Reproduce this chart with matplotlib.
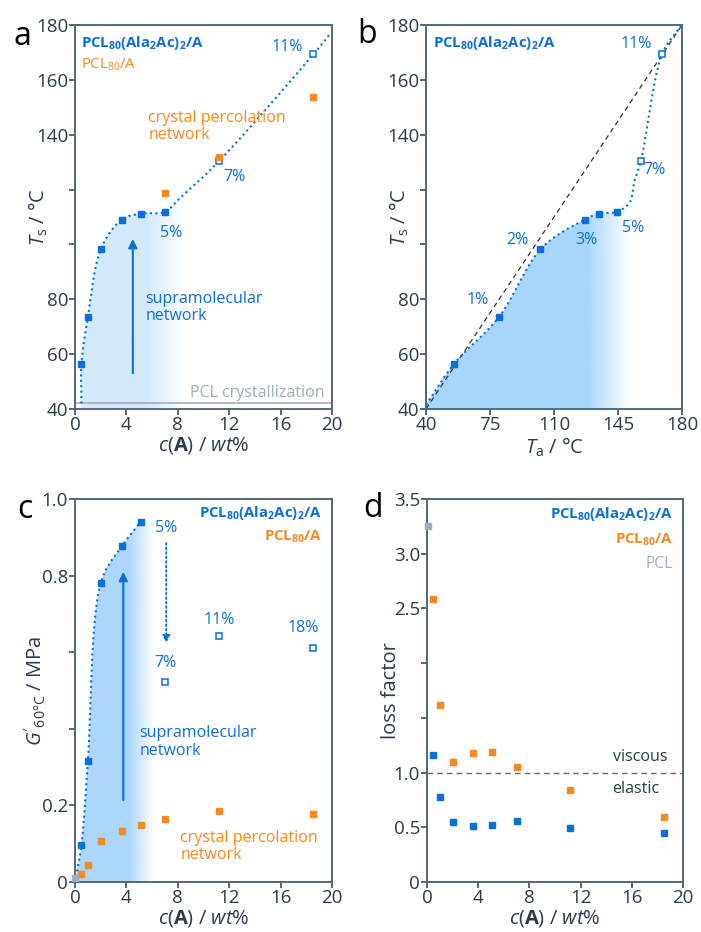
import numpy as np
import matplotlib

matplotlib.use("Agg")
import matplotlib.pyplot as plt
from matplotlib.colors import to_rgb
from matplotlib.patches import Polygon

BLUE = "#0a6fd8"
ORANGE = "#f7891f"
GRAY = "#9cadc1"
INK = "#2b3a4b"
SPINE = "#56667a"
FONT = "Open Sans"

plt.rcParams["font.family"] = [FONT, "DejaVu Sans"]
plt.rcParams["mathtext.fontset"] = "custom"
plt.rcParams["mathtext.rm"] = FONT
plt.rcParams["mathtext.it"] = FONT + ":italic"
plt.rcParams["mathtext.bf"] = FONT + ":bold"

# concentration of A (wt%) shared by every panel
conc = [0.5, 1.0, 2.0, 3.63, 5.1, 7.0, 11.2, 18.55]

# softening temperature Ts of PCL80(Ala2Ac)2/A; first 6 filled, last 2 open
ts_blue = [56.4, 73.6, 98.2, 109.0, 111.2, 111.9, 130.3, 169.3]
# Ts of PCL80/A (7, 11.2, 18.55 wt%)
ts_orange = [118.7, 132.0, 153.6]
# annealing temperature Ta for the same samples
ta_blue = [55.3, 80.0, 102.6, 126.7, 134.5, 144.4, 157.5, 169.1]
ta_tags = ["", "1%", "2%", "3%", "", "5%", "7%", "11%"]

# storage modulus at 60 °C (MPa); first 5 filled, last 3 open
g_blue = [0.097, 0.315, 0.78, 0.876, 0.94, 0.522, 0.642, 0.61]
g_orange = [0.02, 0.044, 0.108, 0.134, 0.148, 0.164, 0.185, 0.178]
g_pcl = 0.01

# loss factor
tan_blue = [1.16, 0.78, 0.545, 0.513, 0.52, 0.56, 0.495, 0.447]
tan_orange = [2.586, 1.62, 1.1, 1.175, 1.185, 1.05, 0.838, 0.59]
tan_pcl = 3.25

LEGEND_BLUE = r"PCL$_\mathbf{80}$(Ala$_\mathbf{2}$Ac)$_\mathbf{2}$/A"
LEGEND_ORANGE = r"PCL$_\mathbf{80}$/A"
XLABEL_C = r"$\mathit{c}$($\mathbf{A}$) / $\mathit{wt}$%"
LEG_SIZE = 10.7
TXT_SIZE = 11.5


def catmull_rom(xs, ys, xspan, yspan, n=40):
    # centripetal spline, computed in axes-normalised units
    pts = np.column_stack([np.asarray(xs) / xspan, np.asarray(ys) / yspan])
    pts = np.vstack([2 * pts[0] - pts[1], pts, 2 * pts[-1] - pts[-2]])
    out = []
    for i in range(1, len(pts) - 2):
        p0, p1, p2, p3 = pts[i - 1], pts[i], pts[i + 1], pts[i + 2]
        t0 = 0.0
        t1 = t0 + np.linalg.norm(p1 - p0) ** 0.5
        t2 = t1 + np.linalg.norm(p2 - p1) ** 0.5
        t3 = t2 + np.linalg.norm(p3 - p2) ** 0.5
        t = np.linspace(t1, t2, n, endpoint=False)[:, None]
        a1 = (t1 - t) / (t1 - t0) * p0 + (t - t0) / (t1 - t0) * p1
        a2 = (t2 - t) / (t2 - t1) * p1 + (t - t1) / (t2 - t1) * p2
        a3 = (t3 - t) / (t3 - t2) * p2 + (t - t2) / (t3 - t2) * p3
        b1 = (t2 - t) / (t2 - t0) * a1 + (t - t0) / (t2 - t0) * a2
        b2 = (t3 - t) / (t3 - t1) * a2 + (t - t1) / (t3 - t1) * a3
        out.append((t2 - t) / (t2 - t1) * b1 + (t - t1) / (t2 - t1) * b2)
    out.append(pts[-2:-1])
    out = np.vstack(out)
    return out[:, 0] * xspan, out[:, 1] * yspan


def gradient_fill(ax, xs, ys, y0, fade0, fade1, color, extend=None):
    xs = list(xs)
    ys = list(ys)
    if extend is not None:
        xs.append(extend)
        ys.append(ys[-1])
    verts = [(xs[0], y0)] + list(zip(xs, ys)) + [(xs[-1], y0)]
    patch = Polygon(verts, closed=True, facecolor="none", edgecolor="none")
    ax.add_patch(patch)
    xmin, xmax = min(xs), max(xs)
    gx = np.linspace(xmin, xmax, 400)
    img = np.zeros((1, gx.size, 4))
    img[..., :3] = to_rgb(color)
    img[0, :, 3] = np.clip((fade1 - gx) / (fade1 - fade0), 0, 1)
    im = ax.imshow(img, extent=[xmin, xmax, y0, max(ys)], origin="lower",
                   aspect="auto", interpolation="bilinear", zorder=0.5)
    im.set_clip_path(patch)


def style(ax, xlim, ylim, xticks, yticks, ylabels):
    ax.set_xlim(*xlim)
    ax.set_ylim(*ylim)
    ax.set_xticks(xticks)
    ax.set_yticks(yticks, ylabels)
    for spine in ax.spines.values():
        spine.set_edgecolor(SPINE)
        spine.set_linewidth(1.4)
    ax.tick_params(direction="out", length=4, width=1.4, color=SPINE,
                   labelcolor=INK, labelsize=13.5, pad=1)


def set_ylabel(ax, text, xpos):
    ax.set_ylabel(text, fontsize=14.5, color=INK)
    ax.yaxis.set_label_coords(xpos, 0.5)


fig = plt.figure(figsize=(7.01, 9.32), dpi=100)
ax_a = fig.add_axes([0.107, 0.5612, 0.3666, 0.412])
ax_b = fig.add_axes([0.6077, 0.5612, 0.3652, 0.412])
ax_c = fig.add_axes([0.107, 0.0536, 0.3666, 0.411])
ax_d = fig.add_axes([0.609, 0.0536, 0.3652, 0.411])

sq = dict(marker="s", ms=4.8, ls="none", zorder=4)

# ---- a: Ts vs concentration
guide_a_c = [0.5] + conc[:6] + [8.2] + conc[6:] + [19.9]
guide_a_t = [42.0] + ts_blue[:6] + [117.0] + ts_blue[6:] + [177.0]
cx, cy = catmull_rom(guide_a_c, guide_a_t, 20, 140)
gradient_fill(ax_a, cx, cy, 40, 5.6, 8.4, "#d3eafc")
ax_a.plot(cx, cy, color=BLUE, lw=1.5, ls=(0, (1, 1.6)), zorder=3)
ax_a.axhline(42.2, color=GRAY, lw=1.2, zorder=2)
ax_a.plot(conc[:6], ts_blue[:6], color=BLUE, mec=BLUE, **sq)
ax_a.plot(conc[6:], ts_blue[6:], color="white", mec=BLUE, mew=1.1, **sq)
ax_a.plot(conc[5:], ts_orange, color=ORANGE, mec=ORANGE, **sq)
ax_a.annotate("", xy=(4.5, 102), xytext=(4.5, 53),
              arrowprops=dict(arrowstyle="-|>", color=BLUE, lw=1.5,
                              mutation_scale=13, shrinkA=0, shrinkB=0))
ax_a.text(5.5, 77, "supramolecular\nnetwork", color=BLUE, fontsize=TXT_SIZE,
          va="center", linespacing=1.15)
ax_a.text(5.7, 143, "crystal percolation\nnetwork", color=ORANGE,
          fontsize=TXT_SIZE, va="center", linespacing=1.15)
ax_a.text(19.4, 46, "PCL crystallization", color=GRAY, fontsize=TXT_SIZE,
          ha="right", va="center")
ax_a.text(7.5, 104, "5%", color=BLUE, fontsize=TXT_SIZE, ha="center",
          va="center")
ax_a.text(12.4, 124.5, "7%", color=BLUE, fontsize=TXT_SIZE, ha="center",
          va="center")
ax_a.text(16.5, 172, "11%", color=BLUE, fontsize=TXT_SIZE, ha="center",
          va="center")
ax_a.text(0.5, 173.5, LEGEND_BLUE, color=BLUE, fontsize=LEG_SIZE,
          fontweight="bold", va="center")
ax_a.text(0.5, 165.5, r"PCL$_{80}$/A", color=ORANGE, fontsize=LEG_SIZE,
          va="center")
style(ax_a, (0, 20), (40, 180), range(0, 21, 4), range(40, 181, 20),
      ["40", "60", "80", "", "", "140", "160", "180"])
ax_a.set_xlabel(XLABEL_C, fontsize=14.5, color=INK, labelpad=1)
set_ylabel(ax_a, r"$\mathit{T}_\mathrm{s}$ / °C", -0.097)

# ---- b: Ts vs annealing temperature
guide_b_a = [40.0] + ta_blue[:6] + [151.5, 154.0] + ta_blue[6:] + [180.0]
guide_b_t = [41.5] + ts_blue[:6] + [115.4, 123.0] + ts_blue[6:] + [180.0]
bx, by = catmull_rom(guide_b_a, guide_b_t, 140, 140)
gradient_fill(ax_b, bx, by, 40, 128, 151, "#a8d6fb")
ax_b.plot([40, 180], [40, 180], color="#333333", lw=0.9, ls=(0, (4, 3)),
          zorder=2)
ax_b.plot(bx, by, color=BLUE, lw=1.5, ls=(0, (1, 1.6)), zorder=3)
ax_b.plot(ta_blue[:6], ts_blue[:6], color=BLUE, mec=BLUE, **sq)
ax_b.plot(ta_blue[6:], ts_blue[6:], color="white", mec=BLUE, mew=1.1, **sq)
tag_pos = {"1%": (68, 79.6), "2%": (90, 101.5), "3%": (127.5, 101.5),
           "5%": (153, 106), "7%": (165, 127), "11%": (155, 173)}
for tag in ta_tags:
    if tag:
        ax_b.text(*tag_pos[tag], tag, color=BLUE, fontsize=TXT_SIZE,
                  ha="center", va="center")
ax_b.text(44, 173.5, LEGEND_BLUE, color=BLUE, fontsize=LEG_SIZE,
          fontweight="bold", va="center")
style(ax_b, (40, 180), (40, 180), range(40, 181, 35), range(40, 181, 20),
      ["40", "60", "80", "", "", "140", "160", "180"])
ax_b.set_xlabel(r"$\mathit{T}_\mathrm{a}$ / °C", fontsize=14.5, color=INK,
                labelpad=1)
set_ylabel(ax_b, r"$\mathit{T}_\mathrm{s}$ / °C", -0.06)

# ---- c: storage modulus
guide_c_c = [0.0] + conc[:5]
guide_c_g = [0.0] + g_blue[:5]
gx, gy = catmull_rom(guide_c_c, guide_c_g, 20, 1.0)
gradient_fill(ax_c, gx, gy, 0, 4.2, 6.1, "#acd7fb", extend=6.2)
ax_c.plot(gx, gy, color=BLUE, lw=1.5, ls=(0, (1, 1.6)), zorder=3)
ax_c.plot(conc[:5], g_blue[:5], color=BLUE, mec=BLUE, **sq)
ax_c.plot(conc[5:], g_blue[5:], color="white", mec=BLUE, mew=1.1, **sq)
ax_c.plot(conc, g_orange, color=ORANGE, mec=ORANGE, **sq)
ax_c.plot([0], [g_pcl], color=GRAY, mec=GRAY, clip_on=False, **sq)
ax_c.annotate("", xy=(3.76, 0.81), xytext=(3.76, 0.214),
              arrowprops=dict(arrowstyle="-|>", color=BLUE, lw=1.5,
                              mutation_scale=13, shrinkA=0, shrinkB=0))
ax_c.annotate("", xy=(7.1, 0.624), xytext=(7.1, 0.885),
              arrowprops=dict(arrowstyle="-|>", color=BLUE, lw=1.3,
                              ls=(0, (1, 1.5)), mutation_scale=11,
                              shrinkA=0, shrinkB=0))
for xv, yv, tag in [(7.06, 0.924, "5%"), (7.06, 0.572, "7%"),
                    (11.2, 0.684, "11%"), (17.8, 0.663, "18%")]:
    ax_c.text(xv, yv, tag, color=BLUE, fontsize=TXT_SIZE, ha="center",
              va="center")
ax_c.text(5.0, 0.365, "supramolecular\nnetwork", color=BLUE,
          fontsize=TXT_SIZE, va="center", linespacing=1.15)
ax_c.text(8.2, 0.093, "crystal percolation\nnetwork", color=ORANGE,
          fontsize=TXT_SIZE, va="center", linespacing=1.15)
ax_c.text(19.2, 0.963, LEGEND_BLUE, color=BLUE, fontsize=LEG_SIZE,
          fontweight="bold", ha="right", va="center")
ax_c.text(19.2, 0.9, LEGEND_ORANGE, color=ORANGE, fontsize=LEG_SIZE,
          fontweight="bold", ha="right", va="center")
style(ax_c, (0, 20), (0, 1.0), range(0, 21, 4), np.arange(0, 1.01, 0.2),
      ["0", "0.2", "", "", "0.8", "1.0"])
ax_c.set_xlabel(XLABEL_C, fontsize=14.5, color=INK, labelpad=1)
set_ylabel(ax_c, r"$\mathit{G'}_\mathrm{60°C}$ / MPa", -0.105)

# ---- d: loss factor
ax_d.axhline(1.0, color="#666666", lw=1.0, ls=(0, (4, 3)), zorder=1)
ax_d.plot(conc, tan_blue, color=BLUE, mec=BLUE, **sq)
ax_d.plot(conc, tan_orange, color=ORANGE, mec=ORANGE, **sq)
ax_d.plot([0.05], [tan_pcl], color=GRAY, mec=GRAY, clip_on=False, **sq)
ax_d.text(14.5, 1.14, "viscous", color=INK, fontsize=TXT_SIZE, va="center")
ax_d.text(14.5, 0.85, "elastic", color=INK, fontsize=TXT_SIZE, va="center")
ax_d.text(19.2, 3.36, LEGEND_BLUE, color=BLUE, fontsize=LEG_SIZE,
          fontweight="bold", ha="right", va="center")
ax_d.text(19.2, 3.13, LEGEND_ORANGE, color=ORANGE, fontsize=LEG_SIZE,
          fontweight="bold", ha="right", va="center")
ax_d.text(19.2, 2.91, "PCL", color=GRAY, fontsize=LEG_SIZE + 0.5,
          ha="right", va="center")
style(ax_d, (0, 20), (0, 3.5), range(0, 21, 4), np.arange(0, 3.51, 0.5),
      ["0", "0.5", "1.0", "", "", "2.5", "3.0", "3.5"])
ax_d.set_xlabel(XLABEL_C, fontsize=14.5, color=INK, labelpad=1)
set_ylabel(ax_d, "loss factor", -0.10)

for letter, x, y in [("a", 13, 45), ("b", 357, 43), ("c", 17, 518),
                     ("d", 363, 517)]:
    fig.text(x / 701, 1 - y / 932, letter, fontsize=23, color="black",
             ha="left", va="baseline")

fig.savefig("out.png", dpi=100, facecolor="white")
